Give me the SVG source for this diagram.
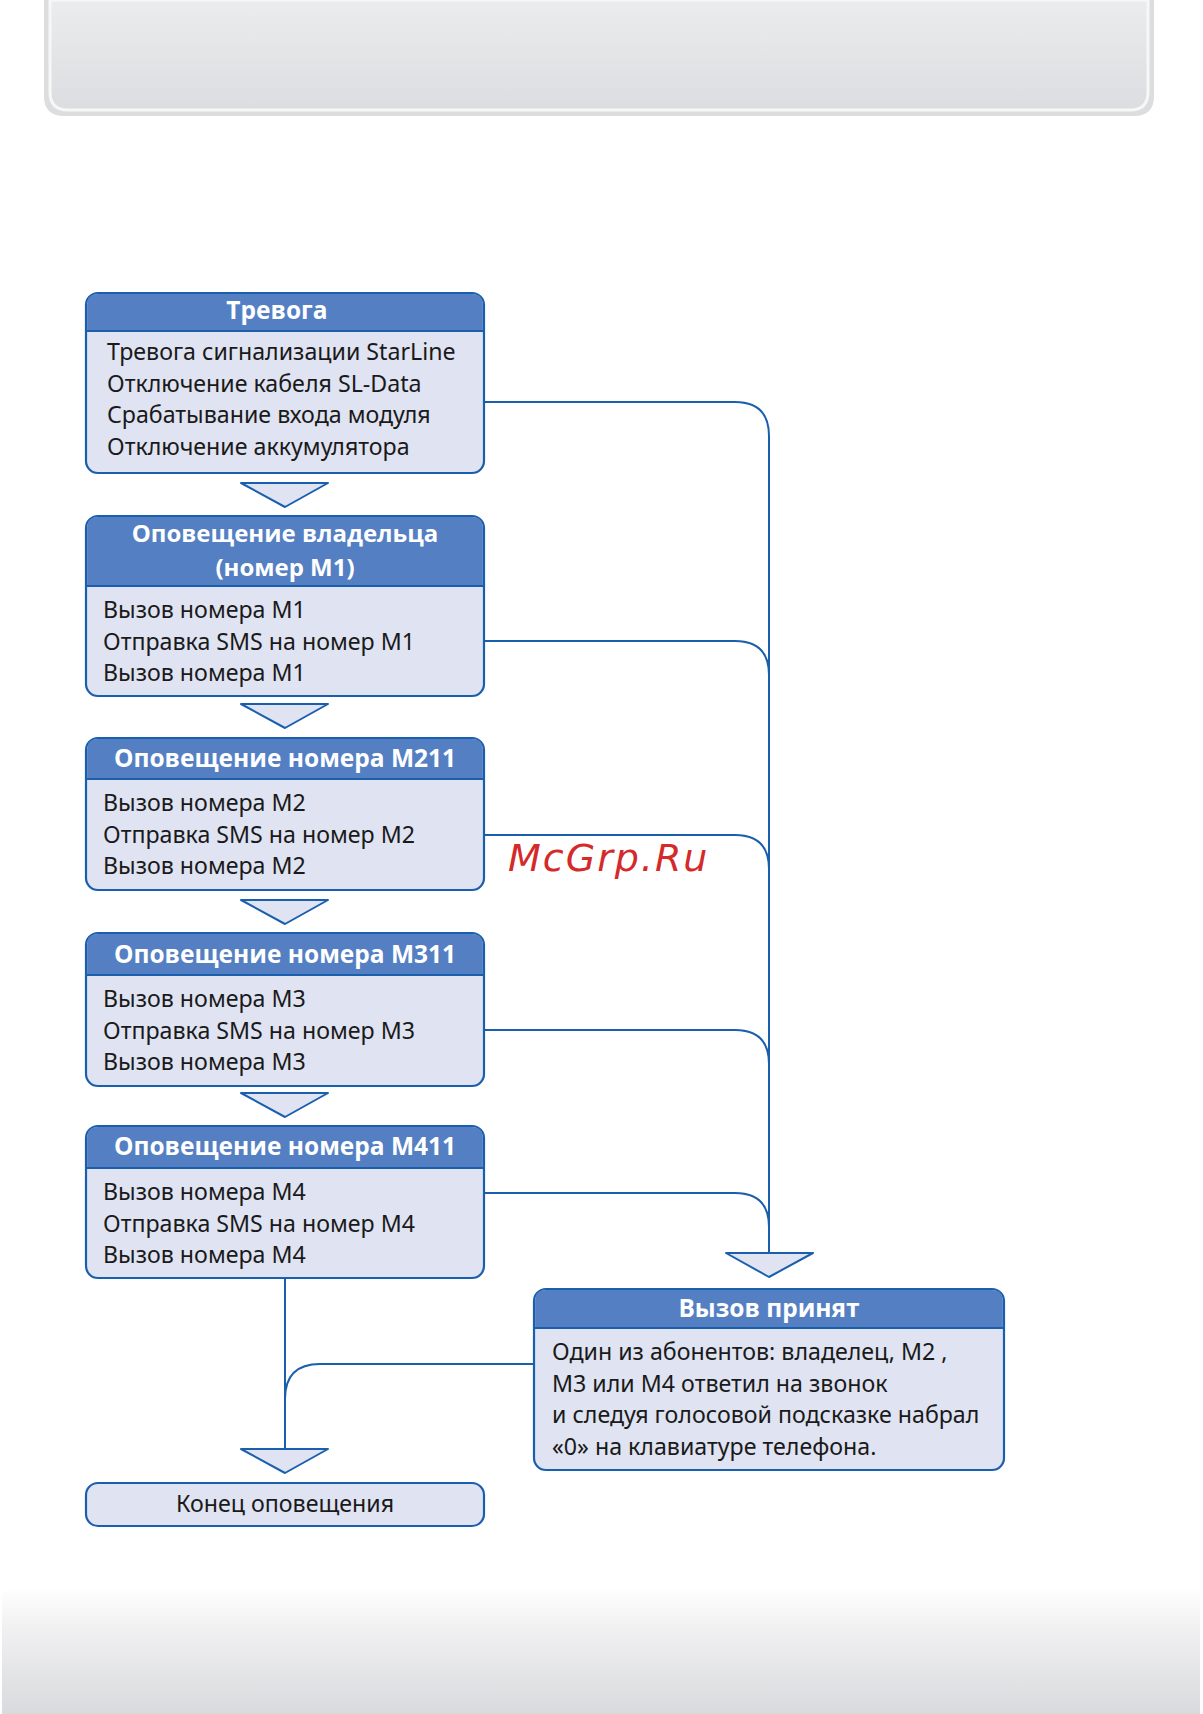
<svg xmlns="http://www.w3.org/2000/svg" width="1203" height="1714" viewBox="0 0 1203 1714">
<defs>
<linearGradient id="gTop" x1="0" y1="0" x2="0" y2="1"><stop offset="0" stop-color="#ebeced"/><stop offset="1" stop-color="#dcdde0"/></linearGradient>
<linearGradient id="gBot" x1="0" y1="0" x2="0" y2="1"><stop offset="0" stop-color="#ffffff"/><stop offset="0.3" stop-color="#f1f1f2"/><stop offset="1" stop-color="#d9dadd"/></linearGradient>
<style>
.box{fill:#dfe3f2;stroke:#1a5fae;stroke-width:2.2}
.hdr{fill:#5480c3}
.sep{stroke:#1a5fae;stroke-width:2.2;fill:none}
.ht{font-family:"Open Sans","Noto Sans",sans-serif;font-weight:bold;font-size:24.5px;fill:#fff;text-anchor:middle}
.bt{font-family:"Noto Sans","Open Sans",sans-serif;font-size:23.2px;fill:#1a1a1a}
.con{fill:none;stroke:#1a5fae;stroke-width:2}
.arr{fill:#dfe3f2;stroke:#1a5fae;stroke-width:2;stroke-linejoin:round}
</style>
</defs>
<rect width="1203" height="1714" fill="#fff"/>
<g id="top-panel">
<path d="M44 0 V96 Q44 116 64 116 H1134 Q1154 116 1154 96 V0 Z" fill="#dcdddf"/>
<path d="M50 0 V92 Q50 110 68 110 H1130 Q1148 110 1148 92 V0 Z" fill="url(#gTop)" stroke="#f7f7f7" stroke-width="3"/>
</g>
<rect id="bottom-band" x="2" y="1588" width="1198" height="126" fill="url(#gBot)"/>

<g id="connectors">
<path class="con" d="M484 402 H735 Q769 402 769 436 V1253"/>
<path class="con" d="M484 641 H735 Q769 641 769 675"/>
<path class="con" d="M484 835 H735 Q769 835 769 869"/>
<path class="con" d="M484 1030 H735 Q769 1030 769 1064"/>
<path class="con" d="M484 1193 H735 Q769 1193 769 1227"/>
<path class="con" d="M285 1278 V1449"/>
<path class="con" d="M534 1364 H320 Q285 1364 285 1399"/>
<path class="arr" d="M241 483 H328 L285 507 Z"/>
<path class="arr" d="M241 704 H328 L285 728 Z"/>
<path class="arr" d="M241 900 H328 L285 924 Z"/>
<path class="arr" d="M241 1093 H328 L285 1117 Z"/>
<path class="arr" d="M241 1449 H328 L285 1473 Z"/>
<path class="arr" d="M726 1253 H813 L769 1277 Z"/>
</g>

<g id="n-alarm">
<rect class="box" x="86" y="293" width="398" height="180" rx="12"/>
<path class="hdr" d="M98 294.1 H472 Q482.9 294.1 482.9 305 V331 H87.1 V305 Q87.1 294.1 98 294.1 Z"/>
<line class="sep" x1="86" y1="331" x2="484" y2="331"/>
<text class="ht" x="277" y="319">Тревога</text>
<text class="bt" x="107" y="360">Тревога сигнализации StarLine</text>
<text class="bt" x="107" y="392">Отключение кабеля  SL-Data</text>
<text class="bt" x="107" y="423">Срабатывание входа модуля</text>
<text class="bt" x="107" y="455">Отключение аккумулятора</text>
</g>

<g id="n-m1">
<rect class="box" x="86" y="516" width="398" height="180" rx="12"/>
<path class="hdr" d="M98 517.1 H472 Q482.9 517.1 482.9 528 V586 H87.1 V528 Q87.1 517.1 98 517.1 Z"/>
<line class="sep" x1="86" y1="586" x2="484" y2="586"/>
<text class="ht" x="285" y="542" style="font-size:24px">Оповещение владельца</text>
<text class="ht" x="285" y="576" style="font-size:24px">(номер M1)</text>
<text class="bt" x="103" y="618">Вызов номера M1</text>
<text class="bt" x="103" y="650">Отправка SMS на номер M1</text>
<text class="bt" x="103" y="681">Вызов номера M1</text>
</g>

<g id="n-m2">
<rect class="box" x="86" y="738" width="398" height="152" rx="12"/>
<path class="hdr" d="M98 739.1 H472 Q482.9 739.1 482.9 750 V779 H87.1 V750 Q87.1 739.1 98 739.1 Z"/>
<line class="sep" x1="86" y1="779" x2="484" y2="779"/>
<text class="ht" x="285" y="767">Оповещение номера M211</text>
<text class="bt" x="103" y="811">Вызов номера M2</text>
<text class="bt" x="103" y="843">Отправка SMS на номер M2</text>
<text class="bt" x="103" y="874">Вызов номера M2</text>
</g>

<g id="n-m3">
<rect class="box" x="86" y="933" width="398" height="153" rx="12"/>
<path class="hdr" d="M98 934.1 H472 Q482.9 934.1 482.9 945 V975 H87.1 V945 Q87.1 934.1 98 934.1 Z"/>
<line class="sep" x1="86" y1="975" x2="484" y2="975"/>
<text class="ht" x="285" y="963">Оповещение номера M311</text>
<text class="bt" x="103" y="1007">Вызов номера M3</text>
<text class="bt" x="103" y="1039">Отправка SMS на номер M3</text>
<text class="bt" x="103" y="1070">Вызов номера M3</text>
</g>

<g id="n-m4">
<rect class="box" x="86" y="1126" width="398" height="152" rx="12"/>
<path class="hdr" d="M98 1127.1 H472 Q482.9 1127.1 482.9 1138 V1168 H87.1 V1138 Q87.1 1127.1 98 1127.1 Z"/>
<line class="sep" x1="86" y1="1168" x2="484" y2="1168"/>
<text class="ht" x="285" y="1155">Оповещение номера M411</text>
<text class="bt" x="103" y="1200">Вызов номера M4</text>
<text class="bt" x="103" y="1232">Отправка SMS на номер M4</text>
<text class="bt" x="103" y="1263">Вызов номера M4</text>
</g>

<g id="n-accepted">
<rect class="box" x="534" y="1289" width="470" height="181" rx="12"/>
<path class="hdr" d="M546 1290.1 H992 Q1002.9 1290.1 1002.9 1301 V1328 H535.1 V1301 Q535.1 1290.1 546 1290.1 Z"/>
<line class="sep" x1="534" y1="1328" x2="1004" y2="1328"/>
<text class="ht" x="769" y="1317">Вызов принят</text>
<text class="bt" x="552" y="1360">Один из абонентов: владелец, M2 ,</text>
<text class="bt" x="552" y="1392">M3 или M4 ответил  на звонок</text>
<text class="bt" x="552" y="1423">и следуя голосовой подсказке набрал</text>
<text class="bt" x="552" y="1455">«0» на клавиатуре телефона.</text>
</g>

<g id="n-end">
<rect class="box" x="86" y="1483" width="398" height="43" rx="12"/>
<text class="bt" x="285" y="1512" text-anchor="middle">Конец оповещения</text>
</g>

<text id="watermark" x="508" y="871" font-family="DejaVu Sans, sans-serif" font-style="italic" font-size="38" fill="#d42a2a" letter-spacing="2">McGrp.Ru</text>
</svg>
